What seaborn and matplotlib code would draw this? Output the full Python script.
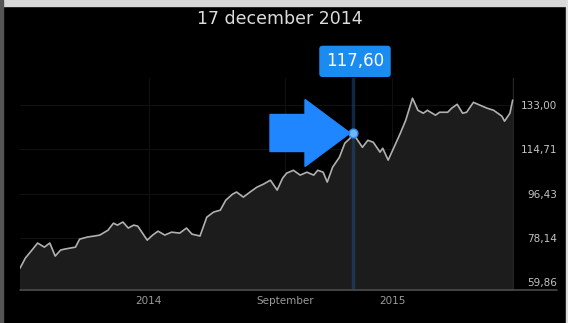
import numpy as np
import pandas as pd
import seaborn as sns
import matplotlib.pyplot as plt
from matplotlib.patches import FancyArrow, Rectangle

# trading days since start of window and closing price
days = [0, 4, 10, 13, 18, 22, 26, 30, 33, 41, 44, 50, 55, 59, 65, 69, 72, 76, 80, 84,
        87, 90, 94, 98, 102, 107, 112, 118, 123, 127, 133, 138, 143, 148, 152, 157, 160,
        165, 170, 175, 180, 185, 190, 194, 197, 202, 207, 212, 217, 220, 224, 227, 231,
        236, 240, 244, 246, 253, 257, 261, 266, 268, 272, 276, 281, 285, 290, 294, 298,
        301, 307, 310, 316, 319, 323, 327, 330, 335, 340, 345, 350, 352, 356, 358, 362, 364]
price = [65.6, 69.8, 73.9, 76.0, 74.3, 76.0, 70.6, 73.1, 73.5, 74.3, 77.6, 78.5, 78.9,
         79.3, 81.3, 84.2, 83.4, 84.7, 82.2, 83.4, 83.0, 80.5, 77.2, 79.3, 80.9, 79.3,
         80.5, 80.1, 82.2, 79.7, 78.9, 86.7, 88.8, 89.6, 93.7, 96.2, 97.1, 95.0, 97.1,
         99.1, 100.4, 102.0, 97.9, 102.8, 104.9, 106.1, 104.1, 105.3, 104.1, 106.1, 105.3,
         101.2, 107.4, 111.5, 117.3, 119.4, 121.4, 115.6, 118.5, 117.7, 113.6, 115.2,
         110.3, 115.2, 121.4, 126.8, 135.9, 130.9, 129.7, 130.9, 128.9, 130.1, 130.1,
         131.8, 133.4, 129.7, 130.1, 134.2, 133.0, 131.8, 130.9, 130.1, 128.5, 126.4,
         129.7, 135.1]

ytick_vals = [59.86, 78.14, 96.43, 114.71, 133.00]
ytick_labels = ["59,86", "78,14", "96,43", "114,71", "133,00"]
xtick_vals = [95, 196, 275]
xtick_labels = ["2014", "September", "2015"]
sel_day = 246
sel_label = "117,60"
title = "17 december 2014"

df = pd.DataFrame({"day": days, "price": price})

sns.set_theme(style="dark")
plt.rcParams["font.family"] = ["DejaVu Sans"]

fig = plt.figure(figsize=(5.68, 3.23), dpi=100, facecolor="black")
ax = fig.add_axes([20 / 568, 0.102, 494 / 568, 0.656])
ax.set_facecolor("black")

ymin, ymax = 56.55, 144.2
ax.set_xlim(0, 365)
ax.set_ylim(ymin, ymax)

for v in ytick_vals:
    ax.axhline(v, color="#121212", lw=0.8, zorder=0)
for d in xtick_vals:
    ax.axvline(d, color="#101010", lw=0.8, zorder=0)

ax.fill_between(df["day"], df["price"], ymin, color="#1c1c1c", zorder=1)
sns.lineplot(data=df, x="day", y="price", ax=ax, color="#b0b0b0", lw=1.2, zorder=3)

# selection marker
sel_price = df.loc[df["day"] == sel_day, "price"].iloc[0]
ax.axvline(sel_day, color="#1f4f80", lw=2.5, alpha=0.5, zorder=2)
ax.axvline(364, color="#262626", lw=1, zorder=2)
ax.scatter([sel_day], [sel_price], s=40, color="#6fb8ff", zorder=4, edgecolor="#2f8cff")

ax.axhline(ymin, xmin=0, xmax=1.087, color="#4a4a4a", lw=1.2, clip_on=False)

ax.yaxis.tick_right()
ax.set_yticks(ytick_vals)
ax.set_yticklabels(ytick_labels, color="#c4c4c4", fontsize=7.5)
for t in ax.get_yticklabels():
    t.set_horizontalalignment("right")
ax.tick_params(axis="y", length=0, pad=31)
ax.set_xticks(xtick_vals)
ax.set_xticklabels(xtick_labels, color="#9a9a9a", fontsize=7.5)
ax.tick_params(axis="x", length=0, pad=4)
ax.set_xlabel("")
ax.set_ylabel("")
for s in ax.spines.values():
    s.set_visible(False)
ax.grid(False)

fig.text(0.493, 0.942, title, ha="center", va="center", color="#dcdcdc", fontsize=12.5)
fig.text(0.625, 0.81, sel_label, ha="center", va="center", color="white", fontsize=12,
         bbox=dict(boxstyle="round,pad=0.4,rounding_size=0.2", fc="#1a8cf0", ec="none"))

fig.patches.append(FancyArrow(270 / 568, 1 - 133 / 323, 80 / 568, 0, width=37 / 323,
                              head_width=67 / 323, head_length=45 / 568,
                              length_includes_head=True, color="#1f86ff",
                              transform=fig.transFigure, figure=fig, zorder=5))

# frame strips of the screenshot
fig.patches.append(Rectangle((0, 1 - 6 / 323), 1, 6 / 323, color="#d8d8d8",
                             transform=fig.transFigure, figure=fig))
fig.patches.append(Rectangle((0, 0), 3 / 568, 1, color="#555555",
                             transform=fig.transFigure, figure=fig))
fig.patches.append(Rectangle((1 - 2 / 568, 0), 2 / 568, 1, color="#dddddd",
                             transform=fig.transFigure, figure=fig))

fig.savefig("out.png", dpi=100, facecolor="black")
